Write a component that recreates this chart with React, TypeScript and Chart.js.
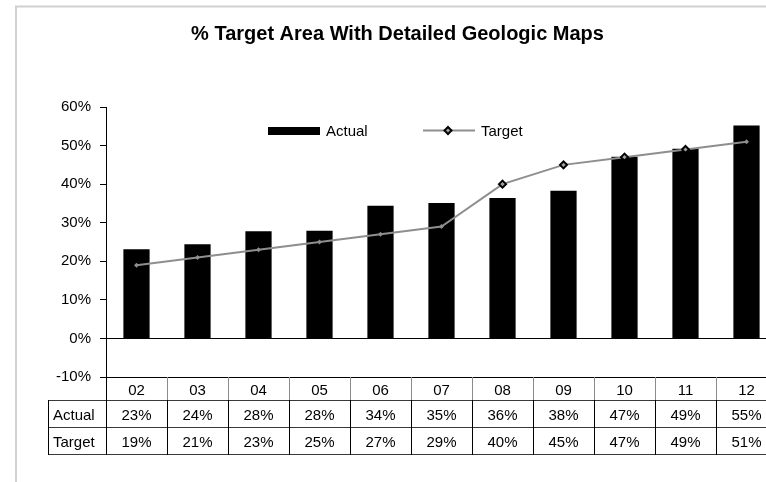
import React, { useEffect, useRef } from "react";
import { Chart, registerables } from "chart.js";

Chart.register(...registerables);

const TITLE = "% Target Area With Detailed Geologic Maps";
const CATEGORIES = ["02", "03", "04", "05", "06", "07", "08", "09", "10", "11", "12"];
const ACTUAL = [23.1, 24.4, 27.8, 27.9, 34.4, 35.1, 36.4, 38.3, 47.1, 49.2, 55.2];
const TARGET = [19, 21, 23, 25, 27, 29, 40, 45, 47, 49, 51];
const SERIES_NAMES = ["Actual", "Target"];
const Y_MIN = -10;
const Y_MAX = 60;
const Y_STEP = 10;
// markers drawn with the heavier outline (style only)
const EMPHASIZED = [6, 7, 8, 9];

const FONT = "'Liberation Sans', Arial, sans-serif";
const LINE_GRAY = "#8e8e8e";

const fmt = (v: number) => `${Math.round(v)}%`;

function drawDiamond(ctx: CanvasRenderingContext2D, x: number, y: number, r: number, fill: string, stroke: string | null, lw: number) {
  ctx.beginPath();
  ctx.moveTo(x, y - r);
  ctx.lineTo(x + r, y);
  ctx.lineTo(x, y + r);
  ctx.lineTo(x - r, y);
  ctx.closePath();
  ctx.fillStyle = fill;
  ctx.fill();
  if (stroke) {
    ctx.strokeStyle = stroke;
    ctx.lineWidth = lw;
    ctx.stroke();
  }
}

const decorPlugin = {
  id: "decor",
  afterDraw(chart: any) {
    const ctx: CanvasRenderingContext2D = chart.ctx;
    const area = chart.chartArea;
    const W = chart.width;
    const H = chart.height;
    ctx.save();

    // frame
    ctx.strokeStyle = "#d0d0d0";
    ctx.lineWidth = 2;
    ctx.beginPath();
    ctx.moveTo(16, H);
    ctx.lineTo(16, 6.5);
    ctx.lineTo(W, 6.5);
    ctx.stroke();

    // title
    ctx.fillStyle = "#000";
    ctx.font = `bold 20px ${FONT}`;
    ctx.textAlign = "center";
    ctx.textBaseline = "alphabetic";
    ctx.fillText(TITLE, 397.5, 40);

    // legend
    ctx.font = `15px ${FONT}`;
    ctx.textAlign = "left";
    ctx.fillStyle = "#000";
    ctx.fillRect(268, 127, 52, 8);
    ctx.fillText(SERIES_NAMES[0], 326, 136);
    ctx.strokeStyle = LINE_GRAY;
    ctx.lineWidth = 2;
    ctx.beginPath();
    ctx.moveTo(423, 130.5);
    ctx.lineTo(475, 130.5);
    ctx.stroke();
    drawDiamond(ctx, 448, 130.5, 3.5, "#a0a0a0", "#000", 2);
    ctx.fillStyle = "#000";
    ctx.fillText(SERIES_NAMES[1], 481, 136);

    // data table
    const n = CATEGORIES.length;
    const colW = (area.right - area.left) / n;
    const top = Math.round(area.bottom);
    const r1 = top + 23;
    const r2 = r1 + 27;
    const r3 = r2 + 27;
    const labelLeft = 48;

    ctx.lineWidth = 1;
    ctx.strokeStyle = "#3a3a3a";
    [r1, r2, r3].forEach((yy) => {
      ctx.beginPath();
      ctx.moveTo(labelLeft, yy + 0.5);
      ctx.lineTo(W, yy + 0.5);
      ctx.stroke();
    });
    ctx.strokeStyle = "#000";
    ctx.beginPath();
    ctx.moveTo(labelLeft + 0.5, r1);
    ctx.lineTo(labelLeft + 0.5, r3 + 1);
    ctx.stroke();
    ctx.beginPath();
    ctx.moveTo(Math.round(area.left) + 0.5, top);
    ctx.lineTo(Math.round(area.left) + 0.5, r3 + 1);
    ctx.stroke();
    for (let k = 1; k <= n; k++) {
      const xx = Math.round(area.left + k * colW) + 0.5;
      ctx.strokeStyle = "#8c8c8c";
      ctx.beginPath();
      ctx.moveTo(xx, top);
      ctx.lineTo(xx, r1);
      ctx.stroke();
      ctx.strokeStyle = "#000";
      ctx.beginPath();
      ctx.moveTo(xx, r1);
      ctx.lineTo(xx, r3 + 1);
      ctx.stroke();
    }

    ctx.fillStyle = "#000";
    ctx.font = `15px ${FONT}`;
    ctx.textBaseline = "alphabetic";
    ctx.textAlign = "left";
    ctx.fillText(SERIES_NAMES[0], 53, r1 + 20);
    ctx.fillText(SERIES_NAMES[1], 53, r2 + 20);
    ctx.textAlign = "center";
    for (let i = 0; i < n; i++) {
      const cx = area.left + (i + 0.5) * colW;
      ctx.fillText(CATEGORIES[i], cx, top + 18);
      ctx.fillText(fmt(ACTUAL[i]), cx, r1 + 20);
      ctx.fillText(fmt(TARGET[i]), cx, r2 + 20);
    }

    ctx.restore();
  },
};

export default function App() {
  const ref = useRef<HTMLCanvasElement | null>(null);

  useEffect(() => {
    if (!ref.current) return;
    const emph = (i: number) => EMPHASIZED.includes(i);
    const chart = new Chart(ref.current, {
      type: "bar",
      data: {
        labels: CATEGORIES,
        datasets: [
          {
            type: "line",
            label: SERIES_NAMES[1],
            data: TARGET,
            order: 0,
            borderColor: LINE_GRAY,
            borderWidth: 2,
            tension: 0,
            pointStyle: "rectRot",
            pointRadius: (c: any) => (emph(c.dataIndex) ? 3.5 : 2.5),
            pointBorderWidth: (c: any) => (emph(c.dataIndex) ? 2 : 0),
            pointBorderColor: (c: any) => (emph(c.dataIndex) ? "#000" : LINE_GRAY),
            pointBackgroundColor: (c: any) => (emph(c.dataIndex) ? "#a0a0a0" : LINE_GRAY),
          } as any,
          {
            type: "bar",
            label: SERIES_NAMES[0],
            data: ACTUAL,
            order: 1,
            backgroundColor: "#000",
            borderWidth: 0,
            barPercentage: 0.43,
            categoryPercentage: 1,
          },
        ],
      },
      options: {
        responsive: false,
        animation: false,
        devicePixelRatio: 1,
        layout: { padding: { left: 0, right: 23, top: 107, bottom: 105 } },
        plugins: {
          legend: { display: false },
          title: { display: false },
          tooltip: { enabled: false },
        },
        scales: {
          x: { display: false },
          y: {
            min: Y_MIN,
            max: Y_MAX,
            afterFit: (s: any) => {
              s.width = 106;
            },
            ticks: {
              stepSize: Y_STEP,
              padding: 9,
              color: "#000",
              font: { family: FONT, size: 15 },
              callback: (v: any) => `${Math.round(Number(v))}%`,
            },
            border: { display: true, color: "#000", width: 1 },
            grid: {
              drawTicks: true,
              tickLength: 6,
              tickColor: "#000",
              color: (c: any) => {
                const v = c.tick ? c.tick.value : null;
                return v !== null && (Math.abs(v) < 1e-9 || Math.abs(v - Y_MIN) < 1e-9) ? "#000" : "rgba(0,0,0,0)";
              },
            },
          },
        },
      },
      plugins: [decorPlugin],
    } as any);
    return () => chart.destroy();
  }, []);

  return (
    <div
      style={{
        position: "fixed",
        left: 0,
        top: 0,
        width: 766,
        height: 482,
        overflow: "hidden",
        background: "#fff",
      }}
    >
      <canvas ref={ref} width={800} height={482} style={{ display: "block", width: 800, height: 482 }} />
    </div>
  );
}
